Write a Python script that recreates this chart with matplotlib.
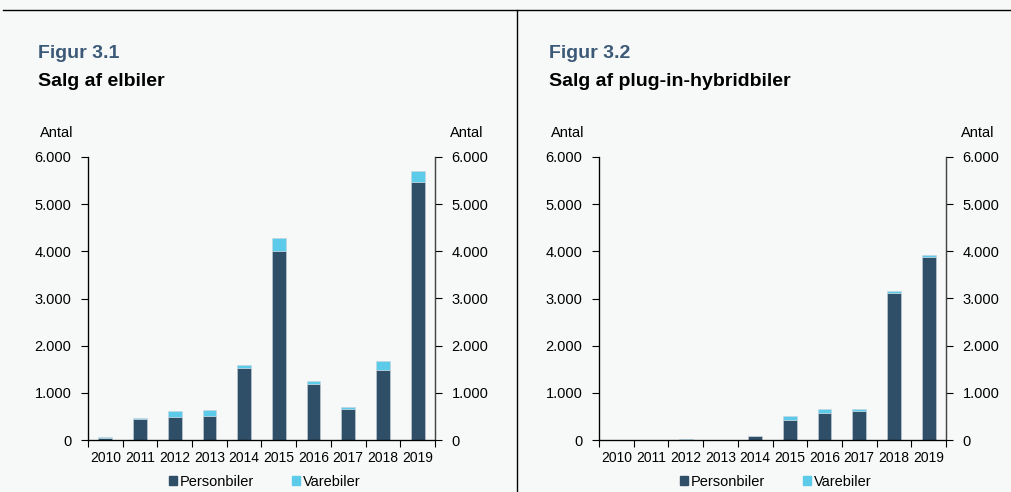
import numpy as np
import matplotlib
matplotlib.use("Agg")
import matplotlib.pyplot as plt
from matplotlib.patches import Patch
from matplotlib.ticker import FuncFormatter

plt.rcParams['font.family'] = ['Liberation Sans', 'DejaVu Sans']

years = ['2010', '2011', '2012', '2013', '2014', '2015', '2016', '2017', '2018', '2019']

# Figur 3.1 - elbiler
el_person = [35, 438, 490, 515, 1530, 4000, 1190, 660, 1475, 5465]
el_vare = [30, 28, 135, 113, 58, 290, 65, 50, 190, 230]

# Figur 3.2 - plug-in-hybridbiler
ph_person = [0, 0, 5, 0, 90, 425, 580, 620, 3120, 3880]
ph_vare = [0, 0, 15, 0, 5, 85, 85, 35, 35, 35]

yticks = [0, 1000, 2000, 3000, 4000, 5000, 6000]

bg = '#f7f9f9'
dark = '#2f4e67'
light = '#5ccbea'
title_col = '#3c5a78'

W, H = 1012, 492
fig = plt.figure(figsize=(W / 100, H / 100), dpi=100, facecolor=bg)


def fmt(v, pos):
    return f"{int(v):,}".replace(',', '.')


def px(x, y, w, h):
    return [x / W, (H - y - h) / H, w / W, h / H]


def panel(x0, fignum, title, person, vare):
    ax = fig.add_axes(px(x0, 157, 347, 283))
    ax.set_facecolor(bg)
    x = np.arange(len(years))
    ax.bar(x, person, width=0.4, color=dark, edgecolor='#c9d3da', linewidth=0.4)
    ax.bar(x, vare, width=0.4, bottom=person, color=light, edgecolor='#c9d3da', linewidth=0.4)
    ax.set_xlim(-0.5, 9.5)
    ax.set_ylim(0, 6000)
    ax.set_yticks(yticks)
    ax.yaxis.set_major_formatter(FuncFormatter(fmt))
    ax.set_xticks(x)
    ax.set_xticklabels(years)
    ax.set_xticks(np.arange(-0.5, 10, 1), minor=True)
    ax.tick_params(axis='x', which='major', length=0, pad=8, labelsize=10)
    ax.tick_params(axis='x', which='minor', length=5, direction='out', width=0.8)
    ax.tick_params(axis='y', length=5, width=0.8, labelsize=10.5, pad=7)
    ax.spines['top'].set_visible(False)
    for s in ['left', 'right', 'bottom']:
        ax.spines[s].set_linewidth(0.9)

    ax2 = ax.twinx()
    ax2.set_ylim(0, 6000)
    ax2.set_yticks(yticks)
    ax2.yaxis.set_major_formatter(FuncFormatter(fmt))
    ax2.tick_params(axis='y', length=5, width=0.8, labelsize=10.5, pad=7)
    ax2.spines['top'].set_visible(False)
    ax2.spines['right'].set_color('#444444')

    fig.text((x0 - 50) / W, (H - 53) / H, fignum, fontsize=14, fontweight='bold',
             color=title_col, va='center', ha='left')
    fig.text((x0 - 50) / W, (H - 81) / H, title, fontsize=14, fontweight='bold',
             color='black', va='center', ha='left')
    fig.text((x0 - 15) / W, (H - 133) / H, 'Antal', fontsize=10.5, va='center', ha='right')
    fig.text((x0 + 347 + 48) / W, (H - 133) / H, 'Antal', fontsize=10.5, va='center', ha='right')

    handles = [Patch(color=dark, label='Personbiler'), Patch(color=light, label='Varebiler')]
    fig.legend(handles=handles, loc='center', ncol=2, frameon=False,
               bbox_to_anchor=((x0 + 177) / W, (H - 482) / H), fontsize=10.5,
               handlelength=0.55, handleheight=0.55, handletextpad=0.2, columnspacing=2.6)


panel(88, 'Figur 3.1', 'Salg af elbiler', el_person, el_vare)
panel(599, 'Figur 3.2', 'Salg af plug-in-hybridbiler', ph_person, ph_vare)

# frame lines
fig.add_artist(plt.Line2D([3 / W, 1], [(H - 10) / H] * 2, color='black', lw=1))
fig.add_artist(plt.Line2D([517 / W] * 2, [0, (H - 10) / H], color='black', lw=1))

fig.savefig('out.png', dpi=100, facecolor=bg)
